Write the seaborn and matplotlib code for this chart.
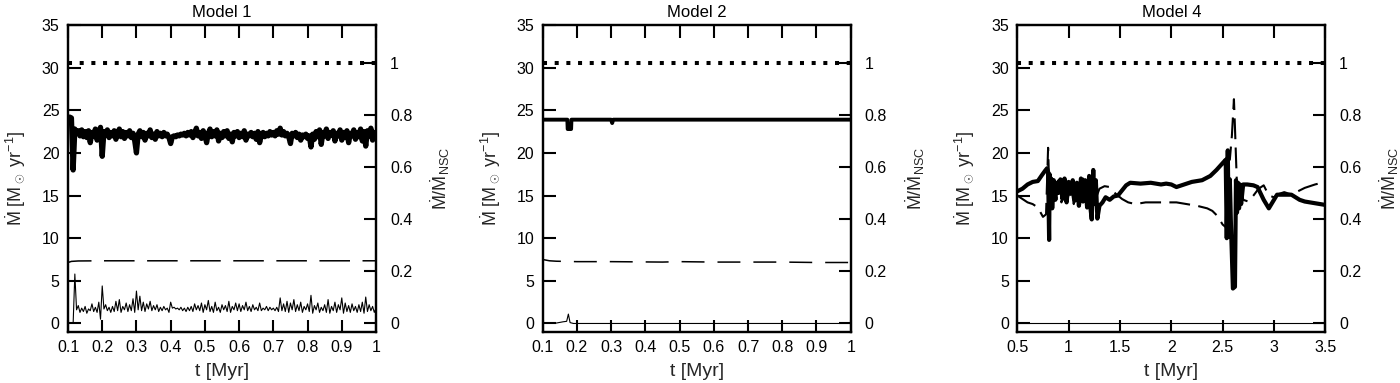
import numpy as np
import matplotlib
matplotlib.use('Agg')
import matplotlib.pyplot as plt
import seaborn as sns
from matplotlib.ticker import FuncFormatter

# gnuplot-like look: white, black frame, inward ticks
sns.set_theme(style='ticks')
plt.rcParams['font.family'] = ['Liberation Sans', 'DejaVu Sans']
plt.rcParams['mathtext.fontset'] = 'custom'
plt.rcParams['mathtext.rm'] = 'Liberation Sans'
plt.rcParams['mathtext.it'] = 'Liberation Sans:italic'
plt.rcParams['mathtext.bf'] = 'Liberation Sans:bold'
plt.rcParams['axes.edgecolor'] = 'black'
plt.rcParams['text.color'] = 'black'
plt.rcParams['xtick.color'] = 'black'
plt.rcParams['ytick.color'] = 'black'

# rate of the nuclear star cluster (dotted line, = 1 on right axis)
MDOT_NSC = 30.6

titles = ['Model 1', 'Model 2', 'Model 4']
xticks_short = [0.1, 0.2, 0.3, 0.4, 0.5, 0.6, 0.7, 0.8, 0.9, 1.0]
xticks_long = [0.5, 1.0, 1.5, 2.0, 2.5, 3.0, 3.5]
yticks_left = [0, 5, 10, 15, 20, 25, 30, 35]
yticks_right = [0, 0.2, 0.4, 0.6, 0.8, 1.0]

# ---- Model 1 ----
t1_thick = np.round(np.linspace(0.1, 1.0, 181), 3)
m1_thick = [
    24.0, 24.2, 24.1, 18.0, 22.8, 22.3, 22.6, 22.0, 22.7, 21.9,
    22.5, 21.8, 22.6, 21.2, 22.4, 22.0, 22.8, 21.5, 22.3, 23.0,
    19.6, 22.5, 22.1, 22.7, 21.8, 22.4, 22.0, 22.6, 21.6, 22.3,
    22.8, 21.9, 22.5, 21.7, 22.4, 22.0, 22.6, 21.8, 22.3, 21.4,
    20.0, 22.2, 22.6, 21.9, 22.4, 21.5, 22.3, 22.0, 22.7, 21.8,
    22.2, 21.6, 22.5, 22.0, 22.3, 21.9, 22.4, 22.0, 22.2, 21.8,
    21.1, 21.9, 22.0, 21.9, 22.1, 22.0, 22.2, 22.1, 22.3, 22.0,
    22.4, 22.1, 22.5, 21.8, 22.3, 22.9, 22.0, 22.4, 21.7, 22.6,
    22.1, 21.2, 22.3, 22.8, 21.9, 22.5, 22.0, 22.7, 21.4, 22.3,
    21.8, 22.5, 22.0, 22.6, 21.7, 22.2, 21.3, 22.4, 22.0, 22.5,
    21.8, 22.3, 21.9, 22.6, 21.5, 22.2, 22.0, 22.4, 21.9, 22.3,
    21.6, 22.5, 21.2, 22.1, 22.4, 21.9, 22.3, 22.0, 22.5, 22.1,
    22.4, 22.0, 22.6, 22.2, 22.9, 22.1, 22.5, 22.0, 22.3, 21.9,
    21.1, 22.3, 22.0, 22.4, 21.8, 22.2, 21.5, 22.1, 21.9, 22.2,
    21.7, 22.0, 20.7, 22.2, 21.6, 22.5, 21.9, 22.7, 21.0, 22.4,
    22.0, 22.8, 21.7, 22.4, 22.1, 22.6, 21.4, 22.3, 22.0, 22.7,
    21.5, 22.4, 21.8, 22.6, 21.2, 22.3, 22.0, 22.7, 21.6, 22.4,
    21.9, 22.8, 21.4, 22.5, 20.8, 22.6, 22.0, 22.9, 21.5, 22.4,
    21.9,
]
t1_thin = np.round(np.linspace(0.115, 1.0, 178), 3)
m1_thin = [
    0.0, 5.8, 1.6, 2.1, 1.3, 1.8, 1.4, 2.0, 1.2, 1.7,
    1.5, 2.3, 1.4, 1.9, 1.3, 2.5, 0.5, 4.4, 1.7, 2.2,
    1.5, 1.9, 1.3, 2.0, 1.4, 2.6, 1.5, 2.8, 1.3, 2.0,
    1.6, 2.4, 1.4, 2.2, 1.5, 2.9, 1.3, 3.8, 1.6, 3.2,
    1.5, 2.5, 1.4, 2.3, 1.7, 2.6, 1.5, 2.1, 1.6, 2.2,
    1.4, 1.9, 1.5, 2.0, 1.6, 1.8, 1.3, 2.5, 1.8, 1.9,
    1.7, 1.8, 1.6, 1.9, 1.5, 1.8, 1.4, 1.9, 1.5, 2.0,
    1.4, 2.3, 1.6, 2.1, 1.5, 2.4, 1.3, 2.2, 1.6, 2.7,
    1.4, 2.0, 1.3, 2.5, 1.5, 1.9, 1.3, 2.2, 1.6, 2.1,
    1.4, 2.6, 1.3, 2.0, 1.6, 2.4, 1.5, 2.3, 1.4, 2.1,
    1.6, 2.5, 1.5, 2.0, 1.4, 2.2, 1.6, 1.9, 1.5, 2.4,
    1.5, 1.8, 1.6, 2.0, 1.5, 1.9, 1.6, 1.8, 1.5, 1.9,
    1.4, 3.0, 1.5, 2.3, 1.4, 2.6, 1.3, 2.4, 1.6, 2.8,
    1.4, 2.2, 1.5, 2.5, 1.3, 2.0, 1.6, 2.3, 1.4, 3.3,
    1.2, 2.1, 1.6, 2.4, 1.3, 1.9, 1.5, 2.2, 1.3, 2.8,
    1.2, 2.0, 1.5, 2.5, 1.3, 2.2, 1.6, 3.0, 1.2, 2.4,
    1.4, 2.1, 1.3, 2.3, 1.5, 2.0, 1.3, 2.2, 1.4, 2.5,
    1.2, 3.1, 1.4, 2.2, 1.5, 2.0, 1.3, 1.8,
]
t1_dash = [0.10, 0.11, 0.13, 0.20, 0.50, 0.80, 1.00]
m1_dash = [7.15, 7.28, 7.33, 7.35, 7.35, 7.35, 7.35]

# ---- Model 2 ----
t2_thick = [0.10, 0.172, 0.173, 0.183, 0.184, 0.30, 0.303, 0.306, 1.00]
m2_thick = [23.9, 23.9, 22.8, 22.8, 23.9, 23.9, 23.5, 23.9, 23.9]
t2_thin = [0.10, 0.14, 0.16, 0.17, 0.175, 0.18, 0.19, 0.25, 0.50, 0.75, 1.00]
m2_thin = [0.0, 0.05, 0.2, 0.25, 1.1, 0.1, 0.0, 0.0, 0.0, 0.0, 0.0]
t2_dash = [0.10, 0.12, 0.14, 0.20, 0.30, 0.45, 0.50, 0.60, 0.70, 0.80, 0.90, 1.00]
m2_dash = [7.5, 7.35, 7.3, 7.25, 7.25, 7.2, 7.25, 7.2, 7.2, 7.2, 7.15, 7.15]

# ---- Model 4 ----
t4_thick = [
    0.50, 0.55, 0.60, 0.65, 0.70, 0.74, 0.77, 0.79, 0.80, 0.81,
    0.815, 0.82, 0.83, 0.84, 0.855, 0.87, 0.885, 0.90, 0.92, 0.94,
    0.96, 0.98, 1.00, 1.02, 1.04, 1.06, 1.08, 1.10, 1.12, 1.14,
    1.16, 1.18, 1.20, 1.21, 1.225, 1.24, 1.25, 1.265, 1.28, 1.30,
    1.33, 1.36, 1.40, 1.44, 1.48, 1.52, 1.56, 1.60, 1.70, 1.80,
    1.90, 1.95, 2.00, 2.05, 2.10, 2.20, 2.30, 2.38, 2.44, 2.50,
    2.53, 2.54, 2.55, 2.56, 2.57, 2.58, 2.60, 2.62, 2.63, 2.64,
    2.65, 2.66, 2.67, 2.68, 2.70, 2.74, 2.80, 2.84, 2.90, 2.95,
    3.00, 3.03, 3.10, 3.17, 3.25, 3.30, 3.40, 3.50,
]
m4_thick = [
    15.5, 15.8, 16.3, 16.6, 16.7, 17.4, 17.9, 18.2, 17.8, 9.8,
    17.5, 14.0, 17.0, 13.5, 16.8, 14.5, 16.5, 15.3, 16.9, 14.6,
    17.0, 14.2, 16.6, 15.2, 16.8, 14.4, 16.5, 13.8, 17.0, 14.3,
    16.8, 13.6, 17.3, 13.8, 12.2, 18.0, 14.0, 16.8, 12.3, 13.8,
    14.2, 14.8, 14.5, 14.9, 15.0, 15.6, 16.2, 16.5, 16.4, 16.5,
    16.3, 16.4, 16.3, 16.0, 16.2, 16.6, 16.8, 17.3, 18.0, 18.8,
    19.2, 10.0, 20.3, 10.2, 16.9, 12.0, 4.1, 4.3, 16.8, 13.0,
    16.5, 13.5, 16.3, 14.0, 16.3, 16.3, 16.2, 16.0, 14.5, 13.5,
    14.5, 15.1, 15.1, 15.1, 14.5, 14.3, 14.1, 13.9,
]
t4_dash = [
    0.50, 0.55, 0.60, 0.65, 0.70, 0.75, 0.78, 0.80, 0.805, 0.81,
    0.82, 0.84, 0.86, 0.88, 0.90, 0.93, 0.96, 0.99, 1.02, 1.05,
    1.08, 1.11, 1.14, 1.17, 1.20, 1.23, 1.26, 1.30, 1.35, 1.40,
    1.44, 1.48, 1.52, 1.58, 1.65, 1.75, 1.85, 1.95, 2.05, 2.15,
    2.25, 2.35, 2.40, 2.45, 2.50, 2.53, 2.55, 2.57, 2.59, 2.61,
    2.62, 2.64, 2.66, 2.68, 2.70, 2.75, 2.80, 2.85, 2.90, 2.95,
    3.00, 3.05, 3.10, 3.15, 3.20, 3.30, 3.40, 3.50,
]
m4_dash = [
    15.0, 14.6, 14.2, 14.0, 13.6, 12.5, 12.8, 20.6, 18.5, 13.0,
    16.0, 14.0, 16.5, 14.5, 16.8, 14.2, 16.5, 14.6, 16.4, 14.0,
    16.6, 13.8, 17.0, 14.3, 16.9, 17.9, 14.5, 15.8, 16.1, 16.0,
    15.4, 15.0, 14.6, 14.2, 14.0, 14.2, 14.2, 14.2, 14.2, 14.0,
    13.8, 13.5, 13.2, 12.6, 11.6, 11.3, 20.4, 19.2, 22.0, 26.3,
    23.0, 16.0, 13.5, 16.5, 14.5, 14.3, 15.0, 15.8, 16.2, 15.0,
    14.8, 15.2, 15.4, 15.2, 15.3, 15.9, 16.3, 16.6,
]
t4_thin = [0.5, 3.5]
m4_thin = [0.0, 0.0]

panels = [
    dict(title=titles[0], xlim=(0.1, 1.0), xticks=xticks_short,
         thick=(t1_thick, m1_thick, 3.8), thin=(t1_thin, m1_thin),
         dash=(t1_dash, m1_dash, 1.1, (4.5, (20, 8.2)))),
    dict(title=titles[1], xlim=(0.1, 1.0), xticks=xticks_short,
         thick=(t2_thick, m2_thick, 2.8), thin=(t2_thin, m2_thin),
         dash=(t2_dash, m2_dash, 1.1, (3, (15, 8.5)))),
    dict(title=titles[2], xlim=(0.5, 3.5), xticks=xticks_long,
         thick=(t4_thick, m4_thick, 3.0), thin=(t4_thin, m4_thin),
         dash=(t4_dash, m4_dash, 1.5, (0, (10, 4)))),
]

fig = plt.figure(figsize=(14, 3.83), dpi=100)
lefts = [68, 542.7, 1017.3]
fmt = FuncFormatter(lambda v, pos: '%g' % v)

for left, p in zip(lefts, panels):
    ax = fig.add_axes([left / 1400, 51 / 383, 308 / 1400, 307 / 383])
    ax2 = ax.twinx()

    x0, x1 = p['xlim']
    # dotted NSC reference
    sns.lineplot(x=[x0, x1], y=[MDOT_NSC, MDOT_NSC], ax=ax, color='black',
                 lw=2.9, linestyle=(0, (1, 1.9)), errorbar=None)
    tt, mm, lw = p['thick']
    sns.lineplot(x=tt, y=mm, ax=ax, color='black', lw=lw, errorbar=None,
                 sort=False, solid_joinstyle='round')
    td, md, lwd, ls = p['dash']
    sns.lineplot(x=td, y=md, ax=ax, color='black', lw=lwd, linestyle=ls,
                 errorbar=None, sort=False)
    tn, mn = p['thin']
    sns.lineplot(x=tn, y=mn, ax=ax, color='black', lw=0.8, errorbar=None,
                 sort=False)

    ax.set_xlim(x0, x1)
    ax.set_ylim(-1, 35)
    ax2.set_ylim(-1 / MDOT_NSC, 35 / MDOT_NSC)
    ax.set_xticks(p['xticks'])
    ax.set_yticks(yticks_left)
    ax2.set_yticks(yticks_right)
    ax.xaxis.set_major_formatter(fmt)
    ax2.yaxis.set_major_formatter(fmt)

    ax.tick_params(axis='x', direction='in', top=True, bottom=True,
                   length=9, width=1.5, labelsize=11.5, pad=6)
    ax.tick_params(axis='y', direction='in', left=True, right=False,
                   length=9, width=1.5, labelsize=11.5, pad=6)
    ax2.tick_params(axis='y', direction='in', right=True, length=9,
                    width=1.5, labelsize=11.5, pad=10)
    for a in (ax, ax2):
        for s in a.spines.values():
            s.set_linewidth(1.6)
            s.set_color('black')

    ax.set_title(p['title'], fontsize=12, pad=6)
    ax.set_xlabel('t [Myr]', fontsize=14)
    ax.xaxis.set_label_coords(0.5, -0.10)
    ax.set_ylabel(r'$\dot{\rm M}$ [M$_\odot$ yr$^{-1}$]', fontsize=13)
    ax.yaxis.set_label_coords(-0.13, 0.5)
    ax2.set_ylabel(r'$\dot{\rm M}/\dot{\rm M}_{\rm NSC}$', fontsize=13)
    ax2.yaxis.set_label_coords(1.17, 0.5)

fig.savefig('out.png', dpi=100)
